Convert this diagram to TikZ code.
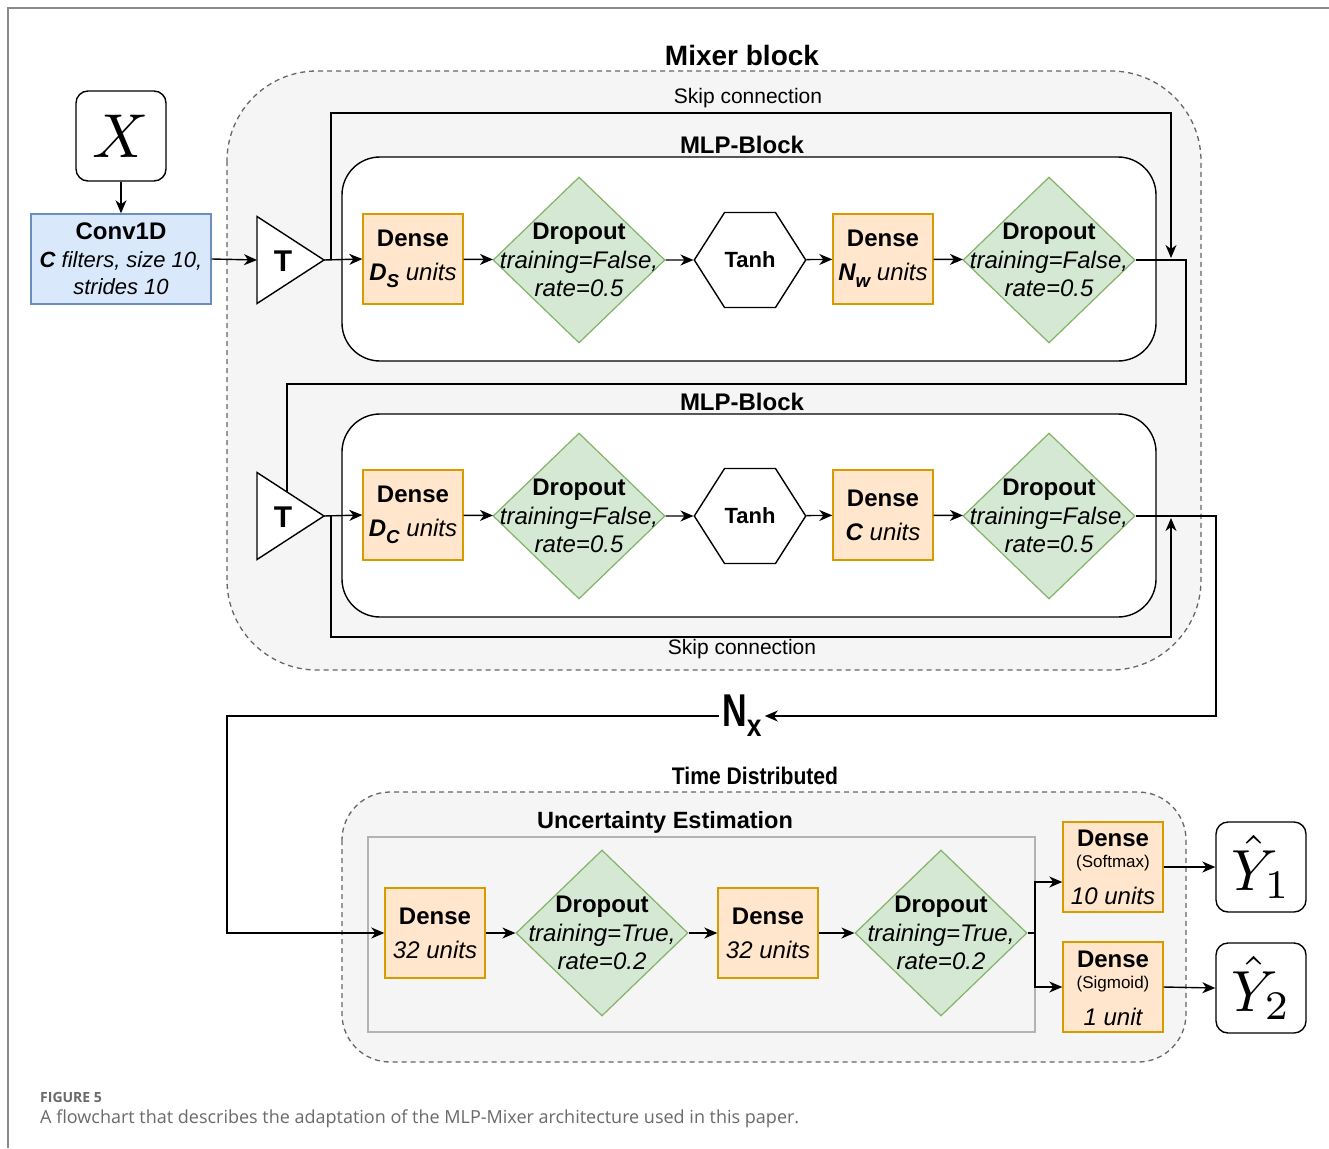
\documentclass[tikz,border=0pt]{standalone}
\usepackage{fontspec}
\setmainfont{Liberation Sans}
\newfontfamily\capfont{Open Sans}
\usetikzlibrary{shapes.geometric,shapes.symbols,arrows.meta,calc}
\definecolor{orS}{HTML}{D79B00}
\definecolor{orF}{HTML}{FFE6CC}
\definecolor{grS}{HTML}{82B366}
\definecolor{grF}{HTML}{D5E8D4}
\definecolor{blS}{HTML}{6C8EBF}
\definecolor{blF}{HTML}{DAE8FC}
\definecolor{bgF}{HTML}{F5F5F5}
\definecolor{dashC}{HTML}{666666}
\definecolor{ueC}{HTML}{B3B3B3}
\definecolor{frameC}{HTML}{8A8A8A}
\definecolor{capC}{HTML}{6A6A6A}
\newcommand\sbsc[1]{\raisebox{-0.28em}{\scalebox{0.78}{#1}}}
\begin{document}
\begin{tikzpicture}[x=1pt,y=-1pt,
  dense/.style={draw=orS, fill=orF, line width=1.4, minimum width=100, minimum height=90, inner sep=0, align=center, font=\fontsize{24}{34}\selectfont},
  conv/.style={draw=blS, fill=blF, line width=1.4, minimum width=180, minimum height=90, inner sep=0, align=center, font=\fontsize{22}{27.5}\selectfont},
  drop/.style={diamond, draw=grS, fill=grF, line width=1.2, minimum width=172, minimum height=166, inner sep=0},
  droptext/.style={align=center, font=\fontsize{24}{28.5}\selectfont},
  hexa/.style={signal, signal to=east and west, signal pointer angle=115, draw, line width=1.4, fill=white, minimum width=106, minimum height=95, inner sep=0, font=\fontsize{22}{26}\selectfont\bfseries},
  tri/.style={draw, line width=1.4, fill=white, line join=miter},
  ttext/.style={font=\fontsize{30}{30}\selectfont\bfseries, inner sep=0},
  ln/.style={line width=1.4},
  arr/.style={line width=1.4, -{Stealth[length=13,width=11,inset=4]}},
  mlp/.style={draw, line width=1.4, fill=white, rounded corners=38},
  mix/.style={draw=dashC, dash pattern=on 5 off 4, line width=1.3, fill=bgF},
  outbox/.style={draw, line width=1.4, rounded corners=12, minimum width=90, minimum height=90, inner sep=0, fill=white},
  title/.style={font=\fontsize{24}{28}\selectfont\bfseries, inner sep=0},
  skiplbl/.style={font=\fontsize{21}{25}\selectfont, inner sep=0},
  smalltxt/.style={inner sep=0, font=\fontsize{17}{20}\selectfont},
  boldtxt/.style={inner sep=0, font=\fontsize{24}{28}\selectfont\bfseries},
  ittxt/.style={inner sep=0, font=\fontsize{24}{28}\selectfont\itshape},
]
\useasboundingbox (0,0) rectangle (1329,1148);
\fill[white] (0,0) rectangle (1329,1148);
\draw[frameC, line width=2] (1329,8) -- (8,8) -- (8,1148);

% Mixer block background
\draw[mix, rounded corners=90] (227,71) rectangle (1201,670);
\node[font=\fontsize{28}{32}\selectfont\bfseries, inner sep=0] (mixlbl) at (742,55) {Mixer block};
\node[skiplbl] (skip1lbl) at (748,98) {Skip connection};
\node[skiplbl] (skip2lbl) at (742,649) {Skip connection};

% input
\node[outbox] (X) at (121,136) {\scalebox{6.2}{$X$}};
\node[conv] (conv) at (121,259) {{\fontsize{24}{27.5}\selectfont\bfseries Conv1D}\\{\bfseries\itshape C} {\itshape filters, size 10,}\\{\itshape strides 10}};

% triangles
\coordinate (t1a) at (324,260);
\draw[tri] (257,216.5) -- (t1a) -- (257,303.5) -- cycle;
\node[ttext] (t1) at (283,261) {T};
\coordinate (t2a) at (324,516);
\draw[tri] (257,472.5) -- (t2a) -- (257,559.5) -- cycle;
\node[ttext] (t2) at (283,517) {T};

% skip connection lines (behind MLP blocks)
\coordinate (s1a) at (331,260);
\coordinate (s1b) at (1171,113);
\coordinate (s1c) at (1171,258);
\draw[arr] (s1a) |- (s1b) -- (s1c);
\coordinate (s2a) at (331,516);
\coordinate (s2b) at (1171,637);
\coordinate (s2c) at (1171,518);
\draw[arr] (s2a) |- (s2b) -- (s2c);

% MLP blocks
\node[title] (mlp1lbl) at (742,145) {MLP-Block};
\draw[mlp] (342,157) rectangle (1156,361);
\node[title] (mlp2lbl) at (742,402) {MLP-Block};
\draw[mlp] (342,414) rectangle (1156,617);

% Row 1
\node[dense] (d1) at (413,259) {{\bfseries Dense}\\{\bfseries\itshape D\sbsc{S}} {\itshape units}};
\node[drop] (p1) at (579,260) {};
\node[droptext] (p1t) at (579,260) {{\bfseries Dropout}\\{\itshape training=False,}\\{\itshape rate=0.5}};
\node[hexa] (h1) at (750,260) {Tanh};
\node[dense] (d2) at (883,259) {{\bfseries Dense}\\{\bfseries\itshape N\sbsc{w}} {\itshape units}};
\node[drop] (p2) at (1049,260) {};
\node[droptext] (p2t) at (1049,260) {{\bfseries Dropout}\\{\itshape training=False,}\\{\itshape rate=0.5}};

% Row 2
\node[dense] (d3) at (413,515) {{\bfseries Dense}\\{\bfseries\itshape D\sbsc{C}} {\itshape units}};
\node[drop] (p3) at (579,516) {};
\node[droptext] (p3t) at (579,516) {{\bfseries Dropout}\\{\itshape training=False,}\\{\itshape rate=0.5}};
\node[hexa] (h2) at (750,516) {Tanh};
\node[dense] (d4) at (883,515) {{\bfseries Dense}\\{\bfseries\itshape C} {\itshape units}};
\node[drop] (p4) at (1049,516) {};
\node[droptext] (p4t) at (1049,516) {{\bfseries Dropout}\\{\itshape training=False,}\\{\itshape rate=0.5}};

% connectors rows 1,2
\draw[arr] (X) -- (conv);
\draw[arr] (conv.east) -- (257,260);
\draw[arr] (t1a) -- (d1.west);
\draw[arr] (d1) -- (p1);
\draw[arr] (p1) -- (h1);
\draw[arr] (h1) -- (d2);
\draw[arr] (d2) -- (p2);
\coordinate (c1) at (1186,260);
\coordinate (c2) at (1186,384);
\coordinate (c3) at (287,384);
\coordinate (c4) at (287,492);
\draw[ln] (p2.east) -- (c1) -- (c2) -- (c3) -- (c4);
\draw[arr] (t2a) -- (d3.west);
\draw[arr] (d3) -- (p3);
\draw[arr] (p3) -- (h2);
\draw[arr] (h2) -- (d4);
\draw[arr] (d4) -- (p4);

% Nx
\node[inner sep=3] (nx) at (742,716) {\scalebox{0.74}[1]{\fontsize{46}{46}\selectfont\bfseries N}\raisebox{-10pt}{\scalebox{0.85}[1]{\fontsize{31}{31}\selectfont\bfseries x}}};
\coordinate (n1) at (1216,516);
\coordinate (n2) at (1216,716);
\draw[arr] (p4.east) -- (n1) -- (n2) -- (nx.east);

% Time distributed
\node[title, font=\fontsize{24}{28}\selectfont\bfseries] (tdlbl) at (755,776) {\scalebox{0.88}[1]{Time Distributed}};
\draw[mix, rounded corners=48] (342,792) rectangle (1186,1062);
\node[title, font=\fontsize{23.5}{28}\selectfont\bfseries] (uelbl) at (665,822) {Uncertainty Estimation};
\draw[draw=ueC, line width=1.4, fill=bgF] (368,837) rectangle (1035,1032);

\node[dense] (d5) at (435,933) {{\bfseries Dense}\\{\itshape 32 units}};
\node[drop] (p5) at (602,933) {};
\node[droptext] (p5t) at (602,933) {{\bfseries Dropout}\\{\itshape training=True,}\\{\itshape rate=0.2}};
\node[dense] (d6) at (768,933) {{\bfseries Dense}\\{\itshape 32 units}};
\node[drop] (p6) at (941,933) {};
\node[droptext] (p6t) at (941,933) {{\bfseries Dropout}\\{\itshape training=True,}\\{\itshape rate=0.2}};

\node[dense] (soft) at (1113,867) {};
\node[boldtxt] (softa) at (1113,838) {Dense};
\node[smalltxt] (softb) at (1113,863) {(Softmax)};
\node[ittxt] (softc) at (1113,896) {10 units};
\node[dense] (sig) at (1113,987) {};
\node[boldtxt] (siga) at (1113,959) {Dense};
\node[smalltxt] (sigb) at (1113,984) {(Sigmoid)};
\node[ittxt] (sigc) at (1113,1017) {1 unit};

\node[outbox] (y1) at (1261,867) {\scalebox{5.8}{$\hat{Y}_1$}};
\node[outbox] (y2) at (1261,988) {\scalebox{5.8}{$\hat{Y}_2$}};

\coordinate (b1) at (227,716);
\coordinate (b2) at (227,933);
\draw[arr] (nx.west) -- (b1) -- (b2) -- (d5.west);
\draw[arr] (d5) -- (p5);
\draw[arr] (p5) -- (d6);
\draw[arr] (d6) -- (p6);
\coordinate (br) at (1035,933);
\draw[arr] (p6.east) -- (br) |- ([yshift=-15pt]soft.west);
\draw[arr] (br) |- (sig.west);
\draw[arr] (soft.east) -- (y1.west);
\draw[arr] (sig.east) -- (y2.west);

% caption
\node[anchor=west, inner sep=0, text=capC, font=\capfont\fontsize{14}{16}\selectfont\bfseries] (figno) at (40,1097) {FIGURE 5};
\node[anchor=west, inner sep=0, text=capC, font=\capfont\fontsize{18}{21}\selectfont] (cap) at (40,1119) {A flowchart that describes the adaptation of the MLP-Mixer architecture used in this paper.};
\end{tikzpicture}
\end{document}
